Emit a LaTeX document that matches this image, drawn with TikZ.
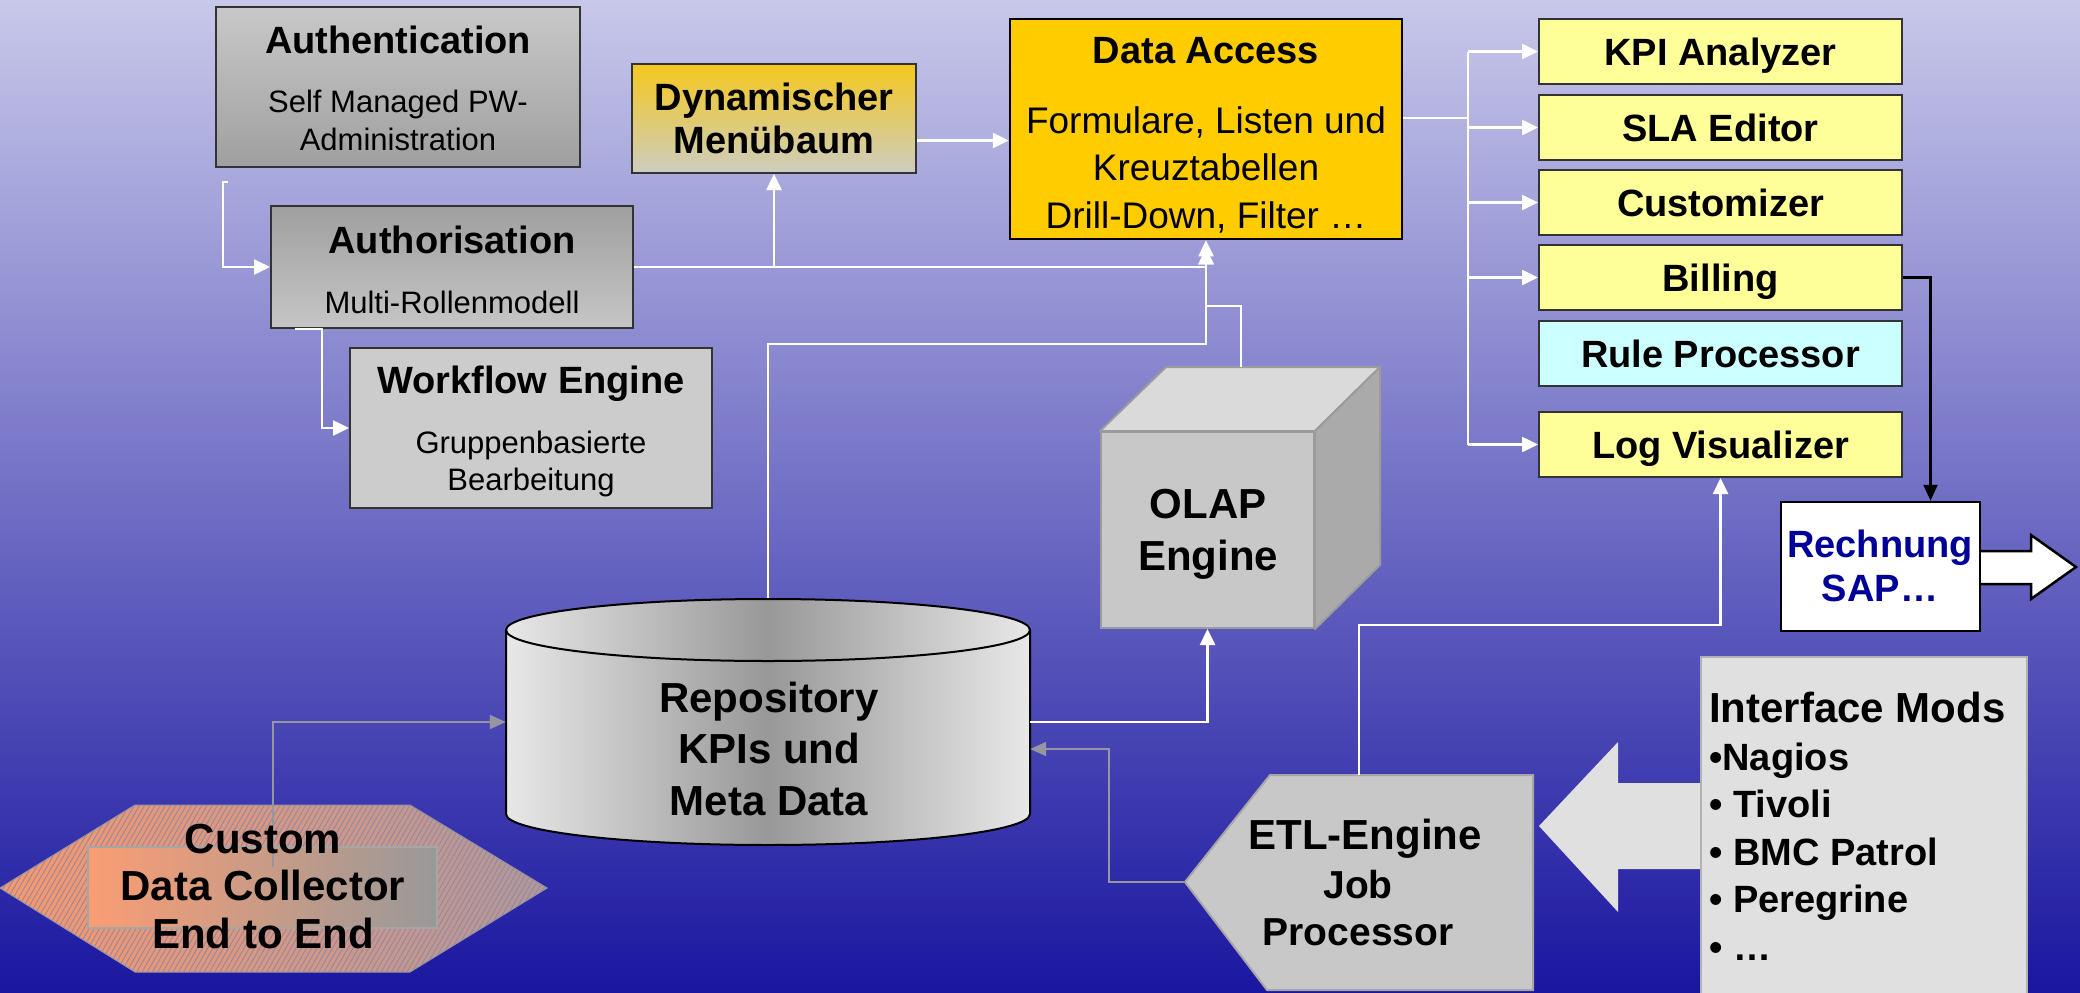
\documentclass[tikz,border=0pt]{standalone}
\usepackage{fontspec}
\setmainfont{Liberation Sans}
\usetikzlibrary{arrows.meta,patterns.meta,calc}
\definecolor{bgtop}{RGB}{200,200,234}
\definecolor{bgmid}{RGB}{124,122,202}
\definecolor{bgbot}{RGB}{26,22,160}
\definecolor{edgeg}{RGB}{51,51,51}
\definecolor{gold}{RGB}{255,204,0}
\definecolor{menutop}{RGB}{245,200,30}
\definecolor{menubot}{RGB}{205,205,192}
\definecolor{lyellow}{RGB}{255,255,153}
\definecolor{lcyan}{RGB}{204,255,255}
\definecolor{navy}{RGB}{0,0,153}
\definecolor{lineg}{RGB}{150,150,160}
\definecolor{lightg}{RGB}{224,224,224}
\definecolor{midg}{RGB}{200,200,200}
\definecolor{orng}{RGB}{250,152,108}
\definecolor{pinkg}{RGB}{176,152,156}
\definecolor{hatchc}{RGB}{150,135,160}
\definecolor{cyl1}{RGB}{232,232,232}
\definecolor{cyl2}{RGB}{152,152,152}
\definecolor{cubefront}{RGB}{200,200,200}
\definecolor{cubetop}{RGB}{218,218,218}
\definecolor{cuberight}{RGB}{170,170,170}
\definecolor{cubeedge}{RGB}{155,155,155}
\newcommand{\ml}[1]{\begin{tabular}[t]{@{}c@{}}#1\end{tabular}}
\newcommand{\mll}[1]{\begin{tabular}[t]{@{}l@{}}#1\end{tabular}}
\tikzset{
  box/.style={draw=edgeg, line width=2pt, inner sep=0pt, rectangle},
  rbox/.style={box, fill=lyellow, minimum width=363pt, minimum height=65pt,
    text height=27pt, text depth=0pt, font=\fontsize{38}{38}\selectfont\bfseries},
  wline/.style={draw=white, line width=2.5pt},
  warr/.style={wline, -{Triangle[length=16pt,width=15pt]}},
  garr/.style={draw=lineg, line width=2pt, -{Triangle[length=16pt,width=14pt]}},
  barr/.style={draw=black, line width=2.5pt, -{Triangle[length=16pt,width=14pt]}},
  txt/.style={anchor=base, inner sep=0pt},
  ttl/.style={txt, font=\fontsize{38}{43}\selectfont\bfseries},
  big/.style={txt, font=\fontsize{42}{50}\selectfont\bfseries},
}
\begin{document}
\begin{tikzpicture}[x=1pt,y=-1pt]
\useasboundingbox (0,0) rectangle (2080,993);
\shade[top color=bgtop, middle color=bgmid, bottom color=bgbot] (0,0) rectangle (2080,993);

% ---------- boxes top left ----------
\node[box, top color=midg, bottom color=gray!75!white, minimum width=364pt, minimum height=160pt] (auth) at (398,87) {};
\node[box, top color=gray!75!white, bottom color=gray!45!white, minimum width=362pt, minimum height=122pt] (autz) at (452,267) {};
\node[box, fill=gray!40!white, minimum width=362pt, minimum height=160pt] (wf) at (531,428) {};
\node[box, top color=menutop, bottom color=menubot, minimum width=284pt, minimum height=109pt] (menu) at (774,118.5) {};
\node[box, draw=black, line width=2.5pt, fill=gold, minimum width=392pt, minimum height=220pt] (da) at (1206,129) {};

\node[ttl] (authT) at (398,53) {Authentication};
\node[txt, font=\fontsize{31}{38}\selectfont] (authS) at (398,112) {\ml{Self Managed PW-\\Administration}};
\node[ttl] (autzT) at (452,253) {Authorisation};
\node[txt, font=\fontsize{31}{38}\selectfont] (autzS) at (452,313) {Multi-Rollenmodell};
\node[ttl] (wfT) at (531,393) {Workflow Engine};
\node[txt, font=\fontsize{31}{37}\selectfont] (wfS) at (531,453) {\ml{Gruppenbasierte\\Bearbeitung}};
\node[ttl] (menuT) at (774,110) {\ml{Dynamischer\\Menübaum}};
\node[ttl] (daT) at (1206,63) {Data Access};
\node[txt, font=\fontsize{37}{47.5}\selectfont] (daS) at (1206,133) {\ml{Formulare, Listen und\\Kreuztabellen\\Drill-Down, Filter …}};

% ---------- right column ----------
\node[rbox] (kpi) at (1720.5,51.5) {KPI Analyzer};
\node[rbox] (sla) at (1720.5,127.5) {SLA Editor};
\node[rbox] (cust) at (1720.5,202.5) {Customizer};
\node[rbox] (bill) at (1720.5,277.5) {Billing};
\node[rbox, fill=lcyan] (rule) at (1720.5,353.5) {Rule Processor};
\node[rbox] (log) at (1720.5,444.5) {Log Visualizer};

% Rechnung with outgoing block arrow
\path[draw=black, line width=2.5pt, fill=white] (1975,551) -- (2031,551) -- (2031,535) -- (2076,567) -- (2031,599) -- (2031,584) -- (1975,584);
\node[box, draw=black, line width=2.5pt, fill=white, minimum width=199pt, minimum height=129pt] (rech) at (1880.5,566.5) {};
\node[txt, text=navy, font=\fontsize{38}{44}\selectfont\bfseries] (rechT) at (1880,557) {\ml{Rechnung\\SAP…}};

% ---------- connectors (top) ----------
\draw[warr] ($(auth.south west)+(13,14)$) -- ++(-5,0) |- (autz.west);
\draw[warr] ($(autz.south west)+(25,0)$) -- ++(27,0) |- (wf.west);
\draw[warr] (autz.east) -- (autz.east -| da.south) -- (da.south);
\draw[warr] (autz.east -| menu.south) -- (menu.south);
\draw[warr] ([yshift=-22pt]menu.east) -- ([yshift=-22pt]menu.east -| da.west);

\coordinate (bus) at (1468,118);
\draw[wline] ([yshift=11pt]da.east) -- (bus);
\draw[wline] (kpi.west -| bus) -- (log.west -| bus);
\foreach \n in {kpi,sla,cust,bill,log} \draw[warr] (\n.west -| bus) -- (\n.west);
\draw[barr] (bill.east) -| ([xshift=50pt]rech.north);

% ---------- repository ----------
\node[minimum width=524pt, minimum height=184pt, inner sep=0pt] (repo) at (768,722) {};
\coordinate (j1) at (768,344);
\draw[warr] (repo.north) -- (j1) -| ([yshift=-8pt]da.south);
\path[draw=black, line width=2pt, left color=cyl1, right color=cyl1, middle color=cyl2]
  (506,630) -- (506,814) arc[start angle=180, end angle=360, x radius=262pt, y radius=31pt]
  -- (1030,630) arc[start angle=0, end angle=180, x radius=262pt, y radius=31pt] -- cycle;
\draw[black, line width=2pt] (506,630) arc[start angle=180, end angle=360, x radius=262pt, y radius=31pt];
\node[big, font=\fontsize{42}{51.5}\selectfont\bfseries] (repoT) at (769,712) {\ml{Repository\\KPIs und\\Meta Data}};

% ---------- OLAP cube ----------
\node[inner sep=0pt, draw=cubeedge, line width=2pt, fill=cubefront, minimum width=213pt, minimum height=196pt] (olap) at (1207.5,530) {};
\path[draw=cubeedge, line width=2pt, fill=cubetop, line join=round] (olap.north west) -- (1166,367) -- (1380,367) -- (olap.north east) -- cycle;
\path[draw=cubeedge, line width=2pt, fill=cuberight, line join=round] (olap.north east) -- (1380,367) -- (1380,565) -- (olap.south east) -- cycle;
\node[big, font=\fontsize{42}{52}\selectfont\bfseries] (olapT) at (1208,518) {\ml{OLAP\\Engine}};
\coordinate (otop) at (1241,367);
\draw[warr] (otop) -- ++(0,-61) -| ([yshift=-8pt]da.south);
\draw[warr] (repo.east) -| (olap.south);

% ---------- ETL engine ----------
\coordinate (etltip) at (1185,882);
\coordinate (etltop) at (1359,775);
\path[draw=gray!70!white, line width=2pt, fill=midg] (etltip) -- (1270,775) -- (1533,775) -- (1533,990) -- (1267,990) -- cycle;
\node[big] (etlT) at (1365,849) {ETL-Engine};
\node[txt, font=\fontsize{39}{47}\selectfont\bfseries] (etlS) at (1358,898) {\ml{Job\\Processor}};
\draw[warr] (etltop) -- ++(0,-150) -| (log.south);
\draw[garr] (etltip) -- ++(-76,0) |- ([yshift=-27pt]repo.east);

% ---------- Interface Mods ----------
\path[fill=lightg] (1539,826) -- (1618,742) -- (1618,783) -- (1702,783) -- (1702,869) -- (1618,869) -- (1618,912) -- cycle;
\node[draw=gray!60!white, line width=1.5pt, fill=lightg, minimum width=326pt, minimum height=340pt, inner sep=0pt, anchor=north west] (ifm) at (1700,656) {};
\node[big, anchor=base west] (ifmT) at (1709,722) {Interface Mods};
\node[txt, anchor=base west, font=\fontsize{38}{47.5}\selectfont\bfseries] (ifmS) at (1709,770) {\mll{•Nagios\\• Tivoli\\• BMC Patrol\\• Peregrine\\• …}};

% ---------- Custom Data Collector ----------
\path[draw=lineg, line width=1pt, left color=orng, right color=pinkg] (0,888) -- (135,805) -- (410,805) -- (547,888) -- (410,972) -- (135,972) -- cycle;
\path[pattern={Lines[angle=60,distance=4.5pt,line width=0.9pt]}, pattern color=hatchc] (0,888) -- (135,805) -- (410,805) -- (547,888) -- (410,972) -- (135,972) -- cycle;
\path[draw=gray!70!white, line width=1.5pt, left color=orng!95!white, right color=gray!80!white] (88,847) rectangle (437,928);
\coordinate (cdcin) at (273,867);
\draw[garr] (cdcin) |- (repo.west);
\node[big, font=\fontsize{42}{47.5}\selectfont\bfseries] (cdcT) at (263,853) {\ml{Custom\\Data Collector\\End to End}};
\end{tikzpicture}
\end{document}
